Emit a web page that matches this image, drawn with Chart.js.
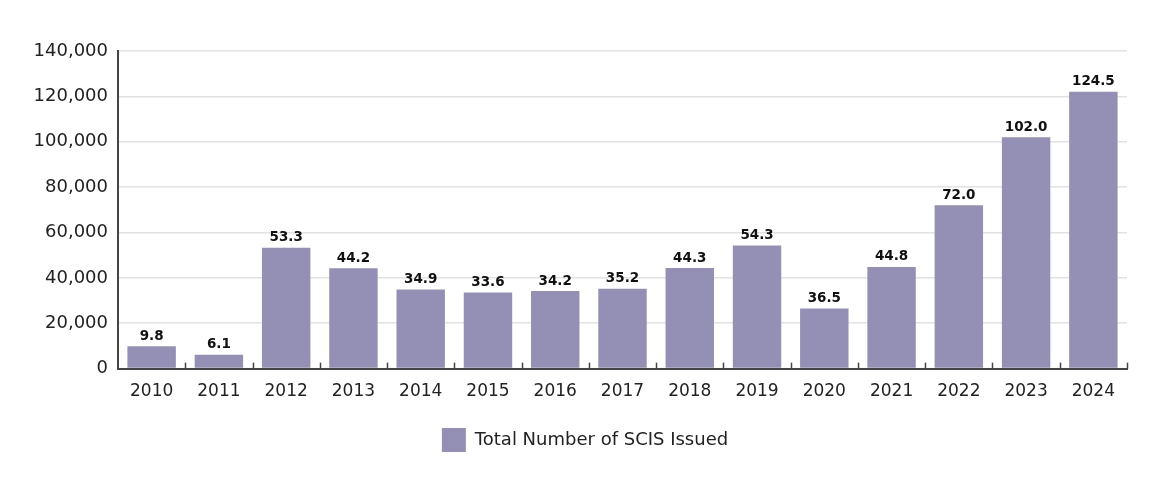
<!DOCTYPE html>
<html>
<head>
<meta charset="utf-8">
<script src="https://cdn.jsdelivr.net/npm/chart.js@4/dist/chart.umd.min.js"></script>
<style>
  html, body { margin: 0; padding: 0; background: #ffffff; }
  #wrap { width: 1170px; height: 480px; position: relative; }
</style>
</head>
<body>
<div id="wrap"><canvas id="c" width="1170" height="480"></canvas></div>
<script>
const years = ['2010','2011','2012','2013','2014','2015','2016','2017','2018','2019','2020','2021','2022','2023','2024'];
const issued = [9800, 6100, 53300, 44200, 34900, 33600, 34200, 35200, 44300, 54300, 26500, 44800, 72000, 102000, 122000];
const valueLabels = ['9.8','6.1','53.3','44.2','34.9','33.6','34.2','35.2','44.3','54.3','36.5','44.8','72.0','102.0','124.5'];
const yMin = 0, yMax = 140000, yStep = 20000;
const seriesName = 'Total Number of SCIS Issued';

const FONT = "'DejaVu Sans', sans-serif";

const valueLabelPlugin = {
  id: 'valueLabels',
  afterDatasetsDraw(chart) {
    const ctx = chart.ctx;
    const meta = chart.getDatasetMeta(0);
    ctx.save();
    ctx.font = "bold 13.5px " + FONT;
    ctx.fillStyle = '#111111';
    ctx.textAlign = 'center';
    ctx.textBaseline = 'middle';
    meta.data.forEach((bar, i) => {
      ctx.fillText(valueLabels[i], bar.x, bar.y - 10);
    });
    ctx.restore();
  }
};

const innerTicksPlugin = {
  id: 'innerTicks',
  afterDraw(chart) {
    const xs = chart.scales.x;
    const ctx = chart.ctx;
    ctx.save();
    ctx.strokeStyle = '#444444';
    ctx.lineWidth = 1.5;
    for (let i = 1; i <= years.length; i++) {
      const x = Math.round(xs.getPixelForValue(i - 0.5)) + 0.5;
      ctx.beginPath();
      ctx.moveTo(x, xs.top);
      ctx.lineTo(x, xs.top - 6);
      ctx.stroke();
    }
    ctx.restore();
  }
};

new Chart(document.getElementById('c'), {
  type: 'bar',
  data: {
    labels: years,
    datasets: [{
      label: seriesName,
      data: issued,
      backgroundColor: '#948fb5',
      borderWidth: 0,
      categoryPercentage: 1.0,
      barPercentage: 0.72
    }]
  },
  options: {
    responsive: false,
    animation: false,
    devicePixelRatio: 1,
    layout: { padding: { top: 51, right: 0, bottom: 18, left: 0 } },
    plugins: {
      tooltip: { enabled: false },
      legend: {
        position: 'bottom',
        labels: {
          boxWidth: 24,
          boxHeight: 24,
          color: '#222222',
          font: { family: FONT, size: 18 },
          padding: 13
        }
      }
    },
    scales: {
      x: {
        grid: { display: false, drawTicks: false },
        border: { display: true, color: '#444444', width: 2 },
        ticks: { color: '#222222', font: { family: FONT, size: 17 }, padding: 13 }
      },
      y: {
        min: yMin, max: yMax,
        afterFit(scale) { scale.width = 118; },
        grid: { color: '#e2e2e2', lineWidth: 1.5, drawTicks: false },
        border: { display: true, color: '#444444', width: 2 },
        ticks: {
          stepSize: yStep,
          color: '#222222',
          font: { family: FONT, size: 18 },
          padding: 10,
          callback: (v) => Number(v).toLocaleString('en-US')
        }
      },
      yRight: {
        position: 'right',
        min: yMin, max: yMax,
        afterFit(scale) { scale.width = 43; },
        grid: { display: false, drawTicks: false },
        border: { display: false },
        ticks: { display: false }
      }
    }
  },
  plugins: [valueLabelPlugin, innerTicksPlugin]
});
</script>
</body>
</html>
